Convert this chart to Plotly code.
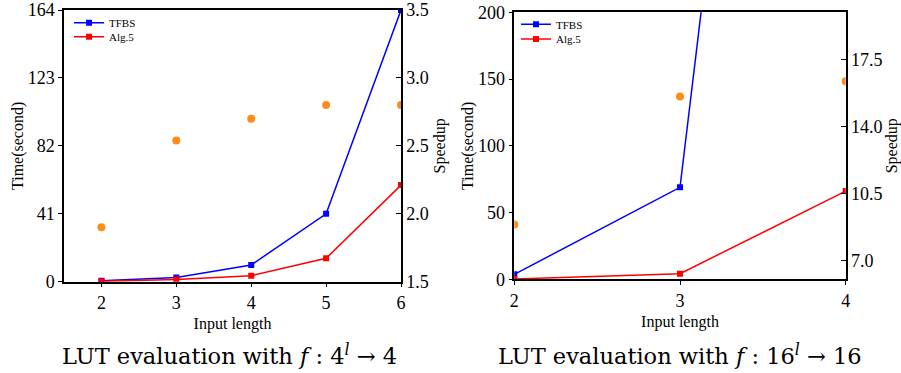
import plotly.graph_objects as go

# ---- data ----
x_left = [2, 3, 4, 5, 6]
tfbs_left = [0.5, 2.6, 10.1, 41.0, 164.0]
alg5_left = [0.3, 1.4, 3.6, 14.1, 58.3]
speedup_left = [1.90, 2.54, 2.70, 2.80, 2.80]

x_right = [2, 3, 4]
tfbs_right = [3.7, 68.9, 1100.0]
alg5_right = [0.3, 4.2, 66.1]
speedup_right = [8.87, 15.59, 16.39]

left_time_ticks = [0, 41, 82, 123, 164]
left_speed_ticks = [1.5, 2.0, 2.5, 3.0, 3.5]
right_time_ticks = [0, 50, 100, 150, 200]
right_speed_ticks = [7.0, 10.5, 14.0, 17.5]

caption_left = "LUT evaluation with <i>f</i> : 4<sup><i>l</i></sup> → 4"
caption_right = "LUT evaluation with <i>f</i> : 16<sup><i>l</i></sup> → 16"

W, H = 901, 373
FONT = "Liberation Serif"
CAPFONT = "DejaVu Serif"
BLUE = "#0000ff"
RED = "#ff0000"
ORANGE = "#ff8c1a"

fig = go.Figure()

# left panel
fig.add_trace(go.Scatter(x=x_left, y=tfbs_left, name="TFBS", mode="lines+markers",
                         line=dict(color=BLUE, width=1.5), marker=dict(symbol="square", size=6),
                         xaxis="x", yaxis="y", legend="legend"))
fig.add_trace(go.Scatter(x=x_left, y=alg5_left, name="Alg.5", mode="lines+markers",
                         line=dict(color=RED, width=1.5), marker=dict(symbol="square", size=6),
                         xaxis="x", yaxis="y", legend="legend2"))
fig.add_trace(go.Scatter(x=x_left, y=speedup_left, name="Speedup", mode="markers",
                         marker=dict(color=ORANGE, size=8), showlegend=False,
                         xaxis="x", yaxis="y2"))

# right panel
fig.add_trace(go.Scatter(x=x_right, y=tfbs_right, name="TFBS", mode="lines+markers",
                         line=dict(color=BLUE, width=1.5), marker=dict(symbol="square", size=6),
                         xaxis="x2", yaxis="y3", legend="legend3"))
fig.add_trace(go.Scatter(x=x_right, y=alg5_right, name="Alg.5", mode="lines+markers",
                         line=dict(color=RED, width=1.5), marker=dict(symbol="square", size=6),
                         xaxis="x2", yaxis="y3", legend="legend4"))
fig.add_trace(go.Scatter(x=x_right, y=speedup_right, name="Speedup", mode="markers",
                         marker=dict(color=ORANGE, size=8), showlegend=False,
                         xaxis="x2", yaxis="y4"))

def px_x(p):
    return p / W

def px_y(p):
    return 1 - p / H

def tickfont():
    return dict(family=FONT, size=18, color="black")

def titlefont():
    return dict(family=FONT, size=16, color="black")

def common_x():
    return dict(showline=True, linecolor="black", linewidth=1.5, mirror=True, automargin=False,
                ticks="outside", ticklen=4, tickcolor="black", showgrid=False, zeroline=False,
                tickfont=tickfont(), title=dict(text="Input length", font=titlefont(), standoff=6))

def common_yl(title):
    return dict(showline=True, linecolor="black", linewidth=1.5, ticks="outside", ticklen=4,
                automargin=False, tickcolor="black", showgrid=False, zeroline=False,
                tickfont=tickfont(), title=dict(text=title, font=titlefont(), standoff=0))

def common_yr(title):
    return dict(showline=True, linecolor="black", linewidth=1.5, ticks="inside", ticklen=5,
                automargin=False, tickcolor="black", showgrid=False, zeroline=False,
                tickfont=tickfont(), title=dict(text=title, font=titlefont(), standoff=6),
                side="right")

def legend_at(xp, yp):
    return dict(x=px_x(xp), y=px_y(yp), xanchor="left", yanchor="middle",
                font=dict(family=FONT, size=11, color="black"), bgcolor="rgba(0,0,0,0)",
                itemwidth=30, borderwidth=0)

fig.update_layout(
    width=W, height=H, margin=dict(l=0, r=0, t=0, b=0, pad=0, autoexpand=False),
    font=dict(family=FONT, color="black"),
    paper_bgcolor="white", plot_bgcolor="white",
    xaxis=dict(domain=[px_x(64), px_x(401)], range=[1.5, 6], tickvals=x_left,
               anchor="y", **common_x()),
    yaxis=dict(domain=[px_y(281.7), px_y(10)], range=[0, 164], tickvals=left_time_ticks,
               anchor="x", **common_yl("Time(second)")),
    yaxis2=dict(range=[1.5, 3.5], tickvals=left_speed_ticks, tickformat=".1f",
                overlaying="y", anchor="x", **common_yr("Speedup")),
    xaxis2=dict(domain=[px_x(514.3), px_x(845.7)], range=[2, 4], tickvals=x_right,
                anchor="y3", **common_x()),
    yaxis3=dict(domain=[px_y(279.3), px_y(12.3)], range=[0, 200], tickvals=right_time_ticks,
                anchor="x2", **common_yl("Time(second)")),
    yaxis4=dict(range=[6, 20], tickvals=right_speed_ticks, tickformat=".1f",
                overlaying="y3", anchor="x2", **common_yr("Speedup")),
    legend=legend_at(69, 22.7),
    legend2=legend_at(69, 36.7),
    legend3=legend_at(516, 24.3),
    legend4=legend_at(516, 39),
    showlegend=True,
    annotations=[
        dict(text=caption_left, x=px_x(229), y=px_y(354), xref="paper", yref="paper",
             showarrow=False, xanchor="center", yanchor="middle",
             font=dict(family=CAPFONT, size=22.5, color="black")),
        dict(text=caption_right, x=px_x(680), y=px_y(354), xref="paper", yref="paper",
             showarrow=False, xanchor="center", yanchor="middle",
             font=dict(family=CAPFONT, size=22.5, color="black")),
    ],
)

fig.write_html("out.html", config={"displayModeBar": False},
               post_script="document.body.style.margin='0';document.body.style.padding='0';document.body.style.overflow='hidden';")
